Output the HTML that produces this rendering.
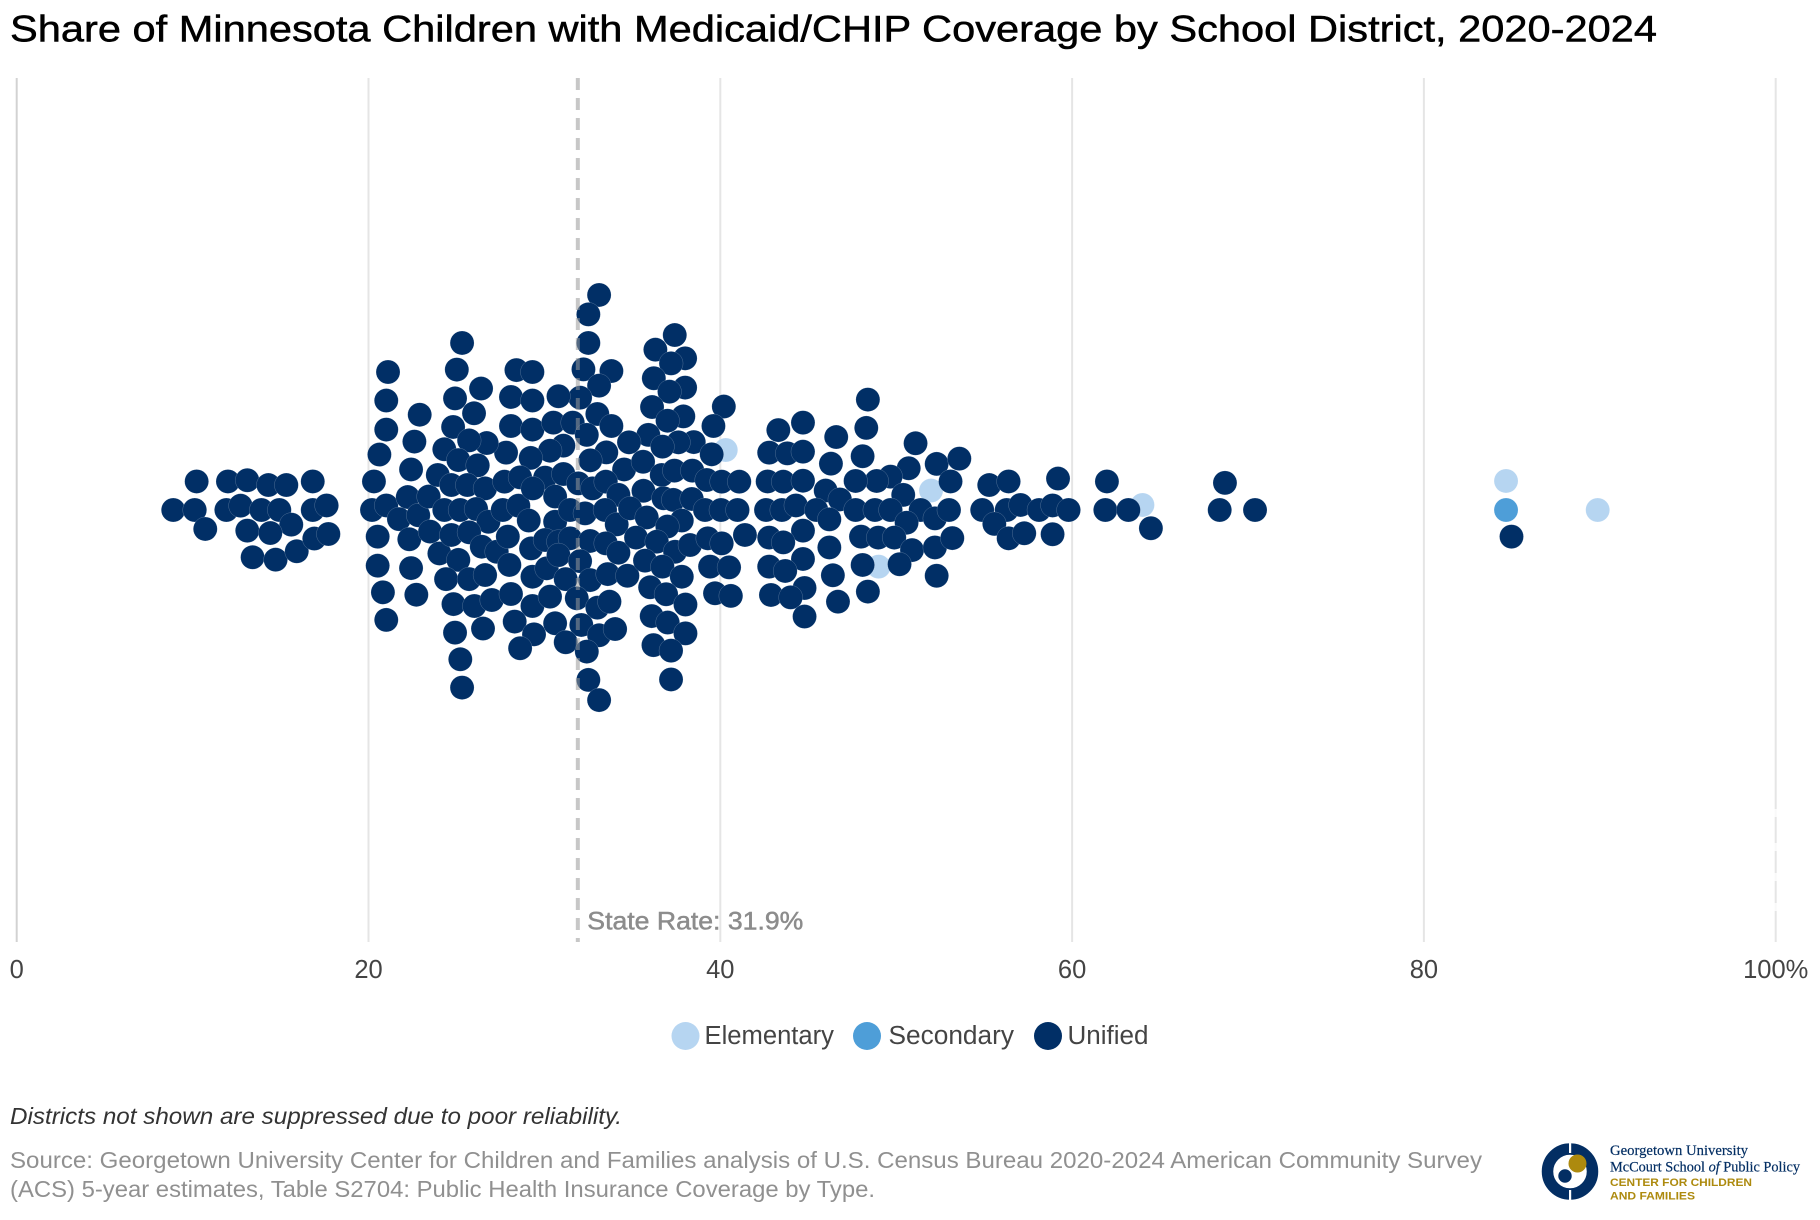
<!DOCTYPE html>
<html lang="en">
<head>
<meta charset="utf-8">
<title>Share of Minnesota Children with Medicaid/CHIP Coverage by School District, 2020-2024</title>
<style>
html,body{margin:0;padding:0;background:#fff;}
svg{display:block;font-family:"Liberation Sans",Arial,sans-serif;}
</style>
</head>
<body>
<svg id="chart" xmlns="http://www.w3.org/2000/svg" width="1820" height="1220" viewBox="0 0 1820 1220">
  <rect x="0" y="0" width="1820" height="1220" fill="#fff"/>
  <text x="10" y="41.5" font-size="37" fill="#000" stroke="#000" stroke-width="0.5" textLength="1647" lengthAdjust="spacingAndGlyphs">Share of Minnesota Children with Medicaid/CHIP Coverage by School District, 2020-2024</text>
  <g id="grid"></g>
  <g id="dots"></g>
  <g id="ref"></g>
  <g id="ticks"></g>
  <g id="legend"></g>
  <text x="10" y="1124" font-size="23.5" font-style="italic" fill="#333" textLength="612" lengthAdjust="spacingAndGlyphs">Districts not shown are suppressed due to poor reliability.</text>
  <text x="10" y="1168" font-size="23.5" fill="#909090" textLength="1472" lengthAdjust="spacingAndGlyphs">Source: Georgetown University Center for Children and Families analysis of U.S. Census Bureau 2020-2024 American Community Survey</text>
  <text x="10" y="1197" font-size="23.5" fill="#909090" textLength="865" lengthAdjust="spacingAndGlyphs">(ACS) 5-year estimates, Table S2704: Public Health Insurance Coverage by Type.</text>
  <g>
    <circle cx="1570" cy="1171.5" r="22.5" fill="none" stroke="#032e63" stroke-width="11.5"/>
    <rect x="1569" y="1140" width="2.2" height="13" fill="#fff"/>
    <rect x="1569" y="1190" width="2.2" height="13" fill="#fff"/>
    <circle cx="1577.5" cy="1163.5" r="9" fill="#ad8a0e"/>
    <circle cx="1565" cy="1176" r="6.7" fill="#032e63"/>
    <text x="1610" y="1155" font-family="'Liberation Serif',serif" font-size="15" fill="#032e63" stroke="#032e63" stroke-width="0.2" textLength="138" lengthAdjust="spacingAndGlyphs">Georgetown University</text>
    <text x="1610" y="1171.5" font-family="'Liberation Serif',serif" font-size="15" fill="#032e63" stroke="#032e63" stroke-width="0.2" textLength="190" lengthAdjust="spacingAndGlyphs">McCourt School <tspan font-style="italic">of</tspan> Public Policy</text>
    <text x="1610" y="1186" font-size="11" font-weight="bold" fill="#ad8a0e" textLength="142" lengthAdjust="spacingAndGlyphs">CENTER FOR CHILDREN</text>
    <text x="1610" y="1199.5" font-size="11" font-weight="bold" fill="#ad8a0e" textLength="85" lengthAdjust="spacingAndGlyphs">AND FAMILIES</text>
  </g>
</svg>
<script>
// Axis data
var tickValues = [0, 20, 40, 60, 80, 100];
var tickLabels = ["0", "20", "40", "60", "80", "100%"];
var stateRate = 31.9;
var stateRateLabel = "State Rate: 31.9%";
var legendLabels = ["Elementary", "Secondary", "Unified"];

// Share of children covered (%) per district, with swarm offset in dot diameters
var elementaryShare = [40.31, 51.98, 64.0, 49.0, 84.67, 89.88];
var elementarySwarm = [-2.5, -0.81, -0.21, 2.36, -1.21, 0];
var secondaryShare = [84.67];
var secondarySwarm = [0];

var unifiedShare = [
 8.9,10.12,10.72,10.23,12.01,13.11,14.31,15.33,16.83,11.92,
 12.73,13.91,14.93,15.61,13.11,14.42,13.41,14.72,15.92,16.92,
 17.72,16.83,17.62,
 21.11,21.01,21.01,20.62,20.31,20.2,21.01,20.52,20.52,20.82,
 21.01,22.91,22.61,22.42,22.23,21.73,22.83,22.32,23.42,23.5,
 22.42,22.72,
 33.11,32.5,32.5,32.22,33.81,33.11,32.03,30.8,25.32,25.02,
 26.4,24.92,26.0,24.81,28.41,29.32,28.1,29.32,28.1,29.32,
 30.51,31.61,33.01,33.81,32.41,
 37.41,36.31,38.0,37.2,36.22,38.0,37.11,36.12,37.9,37.0,
 40.2,39.61,35.91,34.81,38.49,37.62,36.71,39.51,33.52,32.61,
 31.08,30.32,29.22,27.82,26.72,25.72,24.31,25.11,26.21,23.94,
 24.71,25.62,26.63,27.73,28.62,30.04,31.08,34.53,35.61,36.67,
 37.39,38.41,39.23,40.08,31.93,32.73,33.49,34.21,35.63,
 24.31,25.21,26.12,26.82,27.63,28.52,29.11,29.34,30.61,30.61,
 31.46,32.31,33.45,34.11,34.87,35.82,36.77,37.33,38.38,39.13,
 40.04,37.81,36.99,
 24.03,24.71,25.72,26.44,27.29,27.92,29.24,30.04,30.8,31.46,
 32.6,33.49,34.21,35.21,36.39,37.43,38.28,39.29,40.08,
 25.11,24.41,25.72,26.63,28.01,29.32,30.13,30.8,32.03,31.21,
 32.6,33.6,34.72,35.72,36.71,37.81,39.42,40.5,
 24.83,26.02,27.01,28.1,29.32,30.32,31.84,33.01,33.7,36.01,
 36.92,38.02,39.7,40.6,
 24.92,26.51,28.31,29.41,30.61,32.1,33.11,34.02,36.1,37.01,
 38.02,25.22,28.62,31.21,32.41,36.2,37.2,25.32,32.5,33.11,
 37.2,
 41.08,40.98,41.4,43.3,44.7,46.59,48.39,48.3,46.29,48.09,
 51.1,42.78,43.81,44.7,52.3,53.59,50.71,49.68,48.89,47.69,
 53.09,42.69,43.58,44.7,45.99,46.8,50.4,42.6,43.5,44.3,
 45.46,46.2,47.69,48.79,49.68,51.39,50.59,52.2,53.0,44.7,
 42.78,43.58,48.0,48.98,49.89,46.2,50.9,52.2,53.19,44.7,
 42.78,43.69,48.09,50.19,46.4,44.79,42.88,44.0,44.79,46.69,
 48.39,52.3,
 55.29,56.39,54.89,56.28,55.58,56.39,57.07,58.12,58.89,59.8,
 59.2,57.28,58.89,61.98,61.89,63.2,64.48,68.69,68.39,70.4,
 84.98
];
var unifiedSwarm = [
 0,0,0.79,-1.19,-1.19,-1.24,-1.04,-1.04,-1.19,0,
 -0.18,0,0,0.61,0.86,0.96,1.97,2.07,1.72,1.19,
 1.0,0,-0.19,
 -5.75,-4.56,-3.35,-2.31,-1.19,0,-0.19,1.11,2.32,3.43,
 4.58,-3.97,-2.85,-1.69,-0.54,0.38,0.22,1.22,-0.56,0.9,
 2.42,3.53,
 -8.96,-8.15,-6.96,-5.86,-5.79,-5.18,-4.68,-4.74,-6.96,-5.85,
 -5.06,-4.65,-4.03,-3.46,-5.83,-5.75,-4.71,-4.56,-3.5,-3.35,
 -3.64,-3.64,-4.0,-3.5,-3.13,
 -7.29,-6.68,-6.32,-6.11,-5.49,-5.1,-4.93,-4.29,-3.9,-3.72,
 -4.31,-3.5,-3.13,-2.82,-2.83,-2.82,-2.64,-2.32,-2.4,-2.07,
 -2.68,-2.47,-2.17,-2.39,-2.79,-2.9,-2.53,-2.08,-1.86,-1.46,
 -1.04,-1.04,-0.9,-1.18,-1.36,-1.35,-1.5,-1.69,-2.01,-1.46,
 -1.64,-1.64,-1.25,-1.18,-1.11,-0.9,-1.18,-0.63,-0.8,
 0,0,-0.04,0.49,0,-0.18,0.44,-0.9,-0.56,0.49,
 0,0.14,0,0.6,-0.07,0.31,-0.49,-0.42,-0.46,0,
 0,0.44,0.69,
 1.81,1.04,0.93,1.53,1.74,1.11,1.6,1.25,1.32,1.18,
 1.29,1.39,1.78,1.15,1.32,1.74,1.46,1.18,1.39,
 2.08,2.88,2.88,2.71,2.29,2.78,2.43,1.88,2.13,2.88,
 2.92,2.67,2.74,2.11,2.36,2.78,2.36,2.39,
 3.92,4.0,3.75,3.5,4.0,3.61,3.68,4.07,3.82,3.22,
 3.51,3.94,3.47,3.58,
 5.11,4.94,4.65,5.18,4.72,4.79,5.22,4.96,4.42,4.69,
 5.14,6.22,5.76,5.51,5.9,5.63,5.86,7.4,7.08,7.92,
 7.06,
 -1.18,0,1.04,-3.33,-3.64,-3.04,-4.6,-3.42,-1.93,-2.24,
 -2.78,-2.39,-2.36,-2.43,-1.92,-2.14,-1.74,-1.39,-1.21,-1.21,
 -1.19,-1.19,-1.18,-1.22,-0.81,-0.44,-0.63,0,0,-0.19,
 0,0.39,0,0,0,0,0.53,0.35,0,0.86,
 1.15,1.35,1.11,1.15,1.15,1.56,1.67,1.56,1.17,2.04,
 2.36,2.54,2.29,2.26,2.72,3.25,3.54,3.64,4.44,3.82,
 3.4,2.74,
 -1.04,-1.19,0,0,0.58,1.18,-0.21,0,-0.19,0,
 -1.31,0.97,1.01,-1.19,0,0,0.76,-1.13,0,0,
 1.11
];

// Scales
var SVGNS = "http://www.w3.org/2000/svg";
var plotTop = 78, plotBottom = 942, plotMiddle = 510;
var dotRadius = 12;
function xScale(v){ return 16.7 + v * 17.59; }
function yScale(o){ return plotMiddle + o * 2 * dotRadius; }
function make(tag, attrs, parent){
  var el = document.createElementNS(SVGNS, tag);
  for (var k in attrs) el.setAttribute(k, attrs[k]);
  parent.appendChild(el);
  return el;
}

// Gridlines
var gridGroup = document.getElementById("grid");
tickValues.forEach(function(t){
  var line = make("line", {x1:xScale(t), x2:xScale(t), y1:plotTop, y2:plotBottom, stroke:t===0?"#d2d2d2":"#e5e5e5", "stroke-width":2}, gridGroup);
  
  
});
[813, 847, 877, 907].forEach(function(yy){
  var fade = make("rect", {x:xScale(100)-2, y:yy-4, width:4, height:8, fill:"#fff", opacity:0.75}, gridGroup);
  
  
});

// Dots
var dotsGroup = document.getElementById("dots");
function drawSeries(shares, swarm, color, name){
  shares.forEach(function(v, i){
    var c = make("circle", {cx:xScale(v), cy:yScale(swarm[i]), r:dotRadius, fill:color, stroke:"#fff", "stroke-opacity":0.3, "stroke-width":0.5}, dotsGroup);
    
    
  });
}
drawSeries(elementaryShare, elementarySwarm, "#b6d5f1", "elementary-district-dot");
drawSeries(secondaryShare, secondarySwarm, "#4e9ed8", "secondary-district-dot");
drawSeries(unifiedShare, unifiedSwarm, "#012f66", "unified-district-dot");

// Reference line
var refGroup = document.getElementById("ref");
var refLine = make("line", {x1:xScale(stateRate), x2:xScale(stateRate), y1:plotTop, y2:plotBottom, stroke:"#999", "stroke-opacity":0.55, "stroke-width":4, "stroke-dasharray":"12 8"}, refGroup);


var refText = make("text", {x:xScale(stateRate)+9.5, y:929.5, "font-size":25, fill:"#8c8c8c", stroke:"#8c8c8c", "stroke-width":0.5, textLength:216, lengthAdjust:"spacingAndGlyphs"}, refGroup);
refText.textContent = stateRateLabel;



// Tick labels
var tickGroup = document.getElementById("ticks");
tickValues.forEach(function(t, i){
  var label = make("text", {x:xScale(t), y:978, "font-size":25.5, fill:"#444", "text-anchor":"middle"}, tickGroup);
  label.textContent = tickLabels[i];
  
  
});

// Legend
var legendGroup = document.getElementById("legend");
var legendColors = ["#b6d5f1", "#4e9ed8", "#012f66"];
var legendDotX = [685.5, 867, 1048];
var legendTextX = [704.5, 888.5, 1067.5];
var legendWidths = [129.5, 125.5, 81];
legendLabels.forEach(function(name, i){
  var swatch = make("circle", {cx:legendDotX[i], cy:1036, r:14, fill:legendColors[i]}, legendGroup);
  
  
  var label = make("text", {x:legendTextX[i], y:1044, "font-size":25.5, fill:"#444", textLength:legendWidths[i], lengthAdjust:"spacingAndGlyphs"}, legendGroup);
  label.textContent = name;
  
  
});
</script>
</body>
</html>
